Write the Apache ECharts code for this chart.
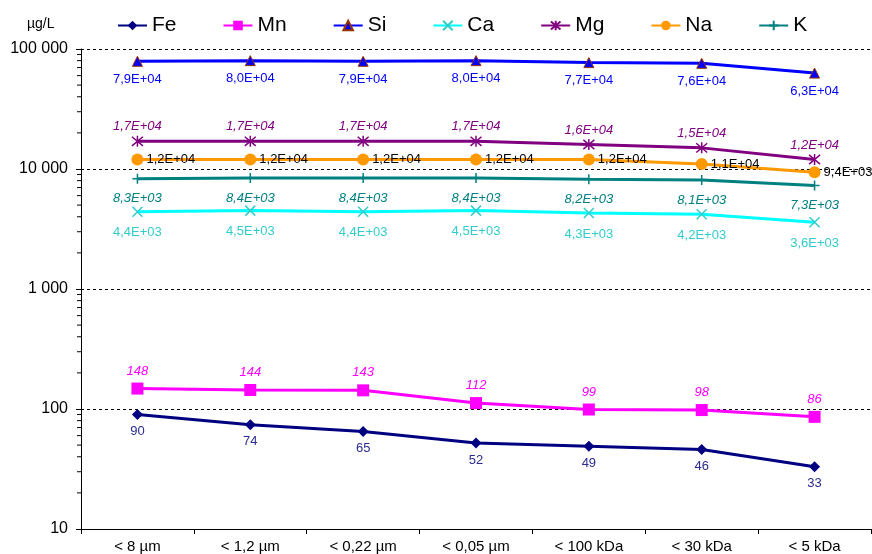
<!DOCTYPE html>
<html><head><meta charset="utf-8">
<script src="https://cdn.jsdelivr.net/npm/echarts@6/dist/echarts.min.js"></script>
<style>html,body{margin:0;padding:0;background:#fff}#c{width:872px;height:554px}</style>
</head><body><div id="c"></div>
<script>
const categories = ['< 8 µm', '< 1,2 µm', '< 0,22 µm', '< 0,05 µm', '< 100 kDa', '< 30 kDa', '< 5 kDa'];
const Fe = [90, 74, 65, 52, 49, 46, 33];
const Mn = [148, 144, 143, 112, 99, 98, 86];
const Si = [79000, 80000, 79000, 80000, 77000, 76000, 63000];
const Ca = [4400, 4500, 4400, 4500, 4300, 4200, 3600];
const Mg = [17000, 17000, 17000, 17000, 16000, 15000, 12000];
const Na = [12000, 12000, 12000, 12000, 12000, 11000, 9400];
const K = [8300, 8400, 8400, 8400, 8200, 8100, 7300];
const yTicks = [10, 100, 1000, 10000, 100000];
const minorTicks = [];
for (let d = 10; d < 100000; d *= 10) for (let k = 2; k <= 9; k++) minorTicks.push(d * k);

function sci(v) {
  const e = Math.floor(Math.log10(v));
  const m = (v / Math.pow(10, e)).toFixed(1).replace('.', ',');
  return m + 'E+' + String(e).padStart(2, '0');
}
function thousands(v) { return String(Math.round(v)).replace(/\B(?=(\d{3})+(?!\d))/g, ' '); }

const FONT = 'Liberation Sans, Arial, sans-serif';
function mk(name, data, color, symbol, size, label, extra) {
  return Object.assign({
    name, type: 'line', data, symbol, symbolSize: size,
    lineStyle: { color, width: 3 },
    itemStyle: { color, borderColor: color, borderWidth: 0 },
    label: Object.assign({ show: true, fontFamily: FONT, fontSize: 13 }, label),
    emphasis: { disabled: true }, z: 3
  }, extra || {});
}

const chart = echarts.init(document.getElementById('c'));
chart.setOption({
  animation: false,
  textStyle: { fontFamily: FONT },
  grid: { left: 81, right: 1, top: 49, bottom: 25, outerBoundsMode: 'none', containLabel: false },
  legend: {
    data: ['Fe', 'Mn', 'Si', 'Ca', 'Mg', 'Na', 'K'],
    left: 112, top: 10, itemWidth: 29, itemHeight: 12, itemGap: 46,
    textStyle: { fontSize: 21, color: '#000', fontFamily: FONT }
  },
  graphic: [{ type: 'text', left: 27, top: 17, style: { text: 'µg/L', font: '14px ' + FONT, fill: '#000' } }],
  xAxis: {
    type: 'category', data: categories, boundaryGap: true,
    axisLine: { lineStyle: { color: '#000', width: 1 } },
    axisTick: { show: true, length: 5, lineStyle: { color: '#000' } },
    axisLabel: { color: '#000', fontSize: 15, margin: 10, fontFamily: FONT, interval: 0 },
    splitLine: { show: false }
  },
  yAxis: {
    type: 'log', logBase: 10, min: yTicks[0], max: yTicks[yTicks.length - 1],
    axisLine: { show: true, lineStyle: { color: '#000', width: 1 } },
    axisTick: { show: true, length: 5, lineStyle: { color: '#000' } },
    axisLabel: { color: '#000', fontSize: 16, margin: 13, fontFamily: FONT, formatter: thousands },
    splitLine: { show: true, lineStyle: { color: '#000', type: [3, 3], width: 1 } }
  },
  series: [
    {
      type: 'custom', name: 'minor', silent: true, z: 1,
      data: minorTicks.map(v => [0, v]),
      renderItem: function (params, api) {
        const y = api.coord([0, api.value(1)])[1];
        const x = params.coordSys.x;
        return { type: 'line', shape: { x1: x - 4, y1: y, x2: x, y2: y }, style: { stroke: '#000', lineWidth: 1 } };
      }
    },
    mk('Fe', Fe, '#000080', 'diamond', 11, { position: 'bottom', distance: 5, color: '#2b2b90' }),
    mk('Mn', Mn, '#FF00FF', 'rect', 12, { position: 'top', distance: 5, color: '#FF00FF', fontStyle: 'italic' }),
    mk('Si', Si, '#0000FF', 'triangle', 10, { position: 'bottom', distance: 6, color: '#0000FF', formatter: p => sci(p.value) },
      { itemStyle: { color: '#0000FF', borderColor: '#993300', borderWidth: 1 } }),
    mk('Ca', Ca, '#00FFFF', 'path://M0,0L10,10M10,0L0,10', 10, { position: 'bottom', distance: 7, color: '#33CCCC', formatter: p => sci(p.value) },
      { itemStyle: { color: 'none', borderColor: '#33CCCC', borderWidth: 1.5 } }),
    mk('Mg', Mg, '#800080', 'path://M0,0L10,10M10,0L0,10M5,-1L5,11', 11, { position: 'top', distance: 0, color: '#800080', fontStyle: 'italic', formatter: p => sci(p.value) },
      { itemStyle: { color: 'none', borderColor: '#800080', borderWidth: 1.5 } }),
    mk('Na', Na, '#FF9900', 'circle', 12, { position: 'right', distance: 3, color: '#000', formatter: p => sci(p.value) }),
    mk('K', K, '#008080', 'path://M5,0L5,10M0,5L10,5', 10, { position: 'bottom', distance: 6, color: '#008080', fontStyle: 'italic', formatter: p => sci(p.value) },
      { itemStyle: { color: 'none', borderColor: '#008080', borderWidth: 1.5 } })
  ]
});
</script></body></html>
